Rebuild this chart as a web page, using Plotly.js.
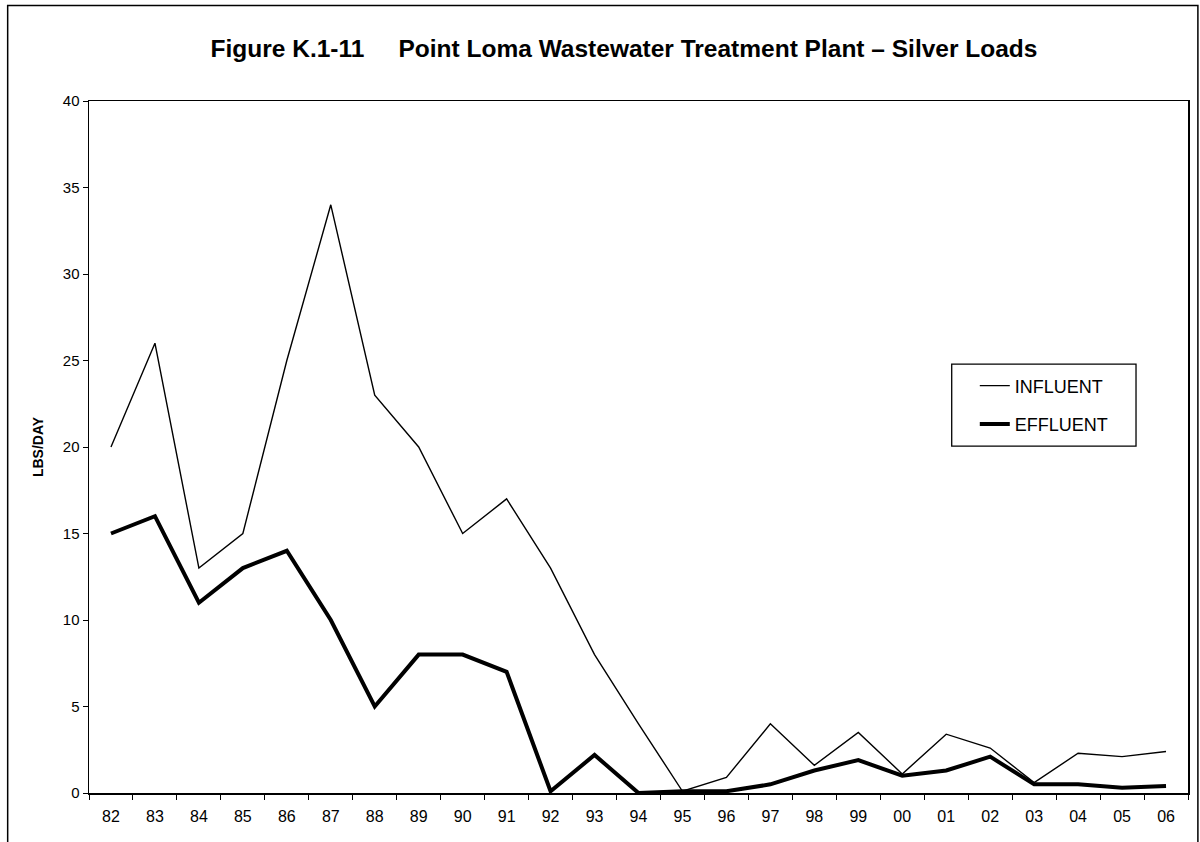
<!DOCTYPE html>
<html>
<head>
<meta charset="utf-8">
<script src="https://cdn.plot.ly/plotly-3.0.1.min.js"></script>
<style>html,body{margin:0;padding:0;background:#fff;}#chart{width:1200px;height:842px;}</style>
</head>
<body>
<div id="chart"></div>
<script>
const years = ["82","83","84","85","86","87","88","89","90","91","92","93","94","95","96","97","98","99","00","01","02","03","04","05","06"];
const influent = [20,26,13,15,25,34,23,20,15,17,13,8,4,0.1,0.9,4.0,1.6,3.5,1.1,3.4,2.6,0.6,2.3,2.1,2.4];
const effluent = [15,16,11,13,14,10,5,8,8,7,0.1,2.2,0,0.1,0.1,0.5,1.3,1.9,1.0,1.3,2.1,0.5,0.5,0.3,0.4];

const font = "Liberation Sans, Arial, sans-serif";
const traces = [
  {x: years, y: influent, name: "INFLUENT", type: "scatter", mode: "lines", legendgroup: "a",
   line: {color: "#000", width: 1.4}},
  {x: years, y: effluent, name: "EFFLUENT", type: "scatter", mode: "lines", legendgroup: "b",
   line: {color: "#000", width: 4}}
];
const layout = {
  width: 1200, height: 842,
  margin: {l: 89, r: 12, t: 101, b: 49},
  paper_bgcolor: "#fff", plot_bgcolor: "#fff",
  font: {family: font, color: "#000", size: 15},
  title: {text: "<b>Figure K.1-11     Point Loma Wastewater Treatment Plant – Silver Loads</b>",
          x: 0.52, xanchor: "center", y: 0.943, yanchor: "middle",
          font: {family: font, size: 24.5, color: "#000"}},
  xaxis: {type: "category", tickson: "boundaries", ticks: "outside", ticklen: 5,
          tickcolor: "#000", showline: true, linecolor: "#000", linewidth: 1.5,
          mirror: true, showgrid: false, zeroline: false, ticklabelstandoff: 8,
          tickfont: {family: font, size: 16}, range: [-0.5, 24.5], fixedrange: true},
  yaxis: {range: [0, 40], dtick: 5, ticks: "outside", ticklen: 5, tickcolor: "#000",
          showline: true, linecolor: "#000", linewidth: 1.5, mirror: true,
          showgrid: false, zeroline: false, tickfont: {family: font, size: 15},
          title: {text: "<b>LBS/DAY</b>", font: {family: font, size: 14}, standoff: 16}},
  legend: {x: 0.806, xanchor: "left", y: 0.615, yanchor: "top",
           borderwidth: 0, bgcolor: "rgba(0,0,0,0)", traceorder: "grouped",
           font: {family: font, size: 18}, tracegroupgap: 12},
  shapes: [
    {type: "rect", xref: "paper", yref: "paper", x0: -0.074, x1: 1.009, y0: -0.075, y1: 1.138,
     line: {color: "#000", width: 1.5}, layer: "below"},
    {type: "rect", xref: "paper", yref: "paper", x0: 0.785, x1: 0.9527, y0: 0.5014, y1: 0.6199,
     line: {color: "#000", width: 1.3}, fillcolor: "#fff", layer: "above"}
  ],
  showlegend: true
};
Plotly.newPlot("chart", traces, layout, {staticPlot: true, displayModeBar: false});
</script>
</body>
</html>
